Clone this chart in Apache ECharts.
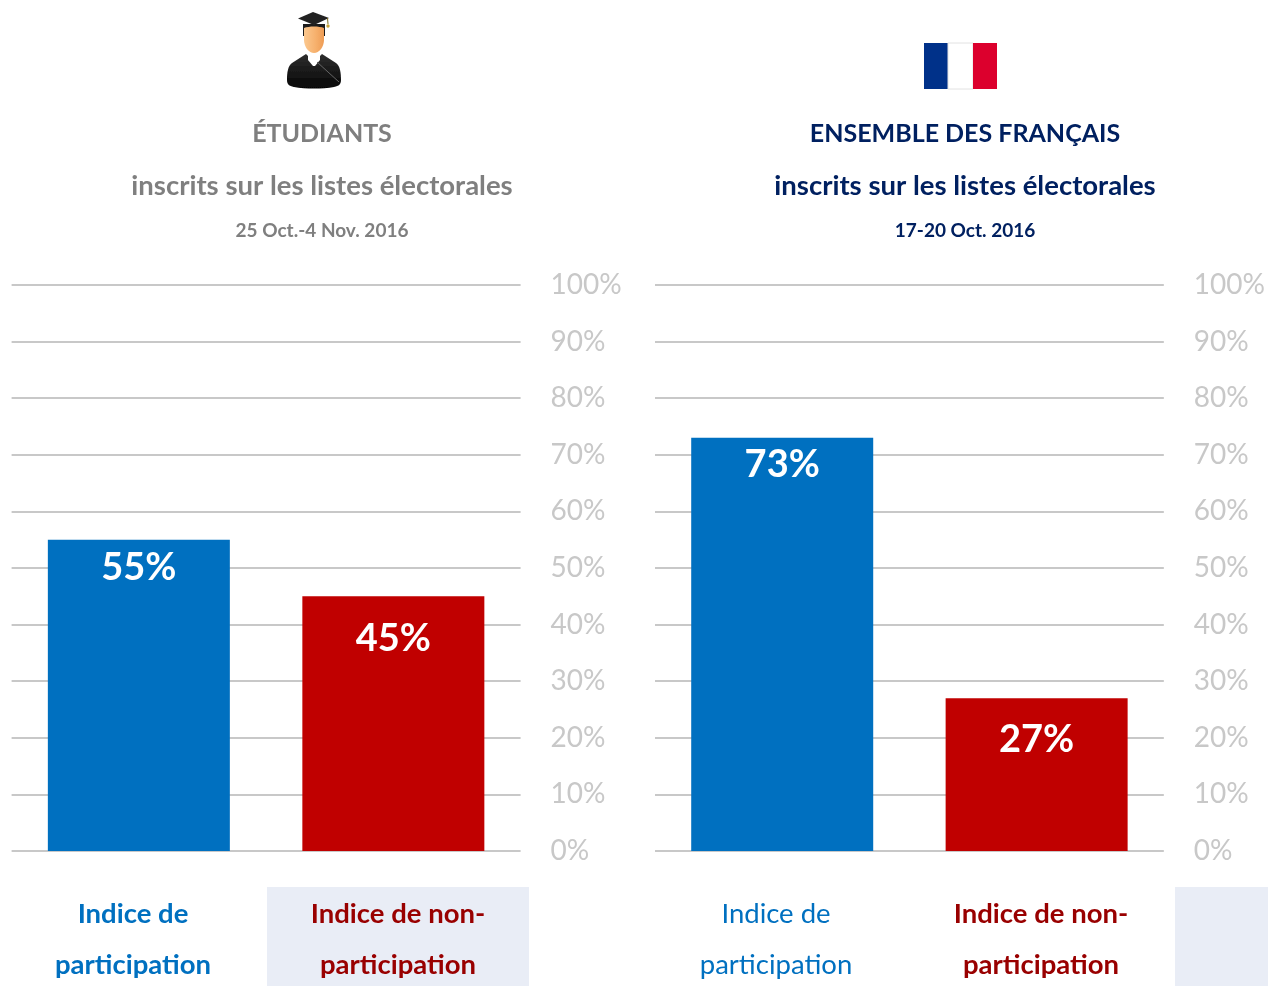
<!DOCTYPE html>
<html><head><meta charset="utf-8">
<style>html,body{margin:0;padding:0;background:#fff}#c{width:1268px;height:986px}</style>
<script src="https://cdn.jsdelivr.net/npm/echarts@6/dist/echarts.min.js"></script>
</head><body><div id="c"></div>
<script>
const categories = ['Indice de\nparticipation', 'Indice de non-\nparticipation'];
const studentValues = [55, 45];
const frenchValues = [73, 27];
const studentTitles = ['ÉTUDIANTS', 'inscrits sur les listes électorales', '25 Oct.-4 Nov. 2016'];
const frenchTitles = ['ENSEMBLE DES FRANÇAIS', 'inscrits sur les listes électorales', '17-20 Oct. 2016'];
const barColors = ['#0070c0', '#c00000'];
const FONT = 'Lato, "Open Sans", sans-serif';

const graduateSvg = `<svg xmlns="http://www.w3.org/2000/svg" width="60" height="80" viewBox="284 10 60 80">
<defs><linearGradient id="f" x1="0" y1="0" x2="1" y2="0"><stop offset="0" stop-color="#fbc88f"/><stop offset="0.6" stop-color="#f6b06c"/><stop offset="1" stop-color="#ee9c55"/></linearGradient>
<linearGradient id="b" x1="0" y1="0" x2="0" y2="1"><stop offset="0" stop-color="#2e2e2e"/><stop offset="1" stop-color="#050505"/></linearGradient>
<filter id="s" x="-5%" y="-5%" width="110%" height="110%"><feGaussianBlur stdDeviation="0.4"/></filter></defs>
<g filter="url(#s)">
<path d="M287 80 C287 72 288 66 292 63 L306 54 L314 62 L322 54 L336 63 C340 66 341 72 341 80 C341 84 339 86 334 87 C322 89 306 89 294 87 C289 86 287 84 287 80 Z" fill="url(#b)"/>
<path d="M308 52 L320 52 L320 60 L315 66 L313 66 L308 60 Z" fill="#fff"/>
<path d="M303 24 L325 24 L325 36 L303 36 Z" fill="#1c1c1c"/>
<path d="M304 28 C309 26 319 26 324 28 L324 40 C324 47 319 53 314 53 C309 53 304 47 304 40 Z" fill="url(#f)"/>
<path d="M298 18.5 L313 12 L329 18 L314 25 Z" fill="#222"/>
<path d="M327.5 18 L328 24" stroke="#7a6a20" stroke-width="1" fill="none"/>
<circle cx="328" cy="26" r="1.7" fill="#c9a53a"/>
<path d="M317 62 L339 82" stroke="#666" stroke-width="1" fill="none"/>
</g></svg>`;

const chart = echarts.init(document.getElementById('c'), null, {renderer: 'canvas'});

function titleSet(lines, x, color) {
  const ys = [116, 167, 216];
  const sizes = [25, 27.5, 19];
  return lines.map((t, i) => ({
    text: t, left: x - 5, top: ys[i], textAlign: 'center',
    textStyle: {color, fontFamily: FONT, fontWeight: 'bold', fontSize: sizes[i]}
  }));
}
function grid(left) { return {left, width: 509, top: 285, height: 566, containLabel: false}; }
function xAxis(i) {
  return {gridIndex: i, type: 'category', data: categories,
    axisLine: {show: false}, axisTick: {show: false}, axisLabel: {show: false}, splitLine: {show: false}};
}
function yAxis(i) {
  return {gridIndex: i, type: 'value', min: 0, max: 100, interval: 10, position: 'right',
    axisLine: {show: false}, axisTick: {show: false},
    axisLabel: {formatter: '{value}%', color: '#c8c8c8', fontFamily: FONT, fontSize: 28, margin: 30, align: 'left', padding: [4, 0, 0, 0]},
    splitLine: {lineStyle: {color: '#c8c8c8', width: 2}}};
}
function barSeries(i, values, distances) {
  return {type: 'bar', xAxisIndex: i, yAxisIndex: i, barWidth: 182, z: 3,
    data: values.map((v, k) => ({
      value: v, itemStyle: {color: barColors[k]},
      label: {show: true, position: 'insideTop', distance: distances[k], formatter: '{c}%',
        color: '#fff', fontFamily: FONT, fontWeight: 'bold', fontSize: 38}
    }))};
}
function catLabel(text, cx, color, weight) {
  return {type: 'text', z: 5, style: {
    text, x: cx, y: 889, align: 'center', verticalAlign: 'top', lineHeight: 51,
    fill: color, fontFamily: FONT, fontSize: 27.5, fontWeight: weight}};
}
const graphic = [
  {type: 'rect', z: 0, shape: {x: 267, y: 887, width: 262, height: 99}, style: {fill: '#e9edf6'}},
  {type: 'rect', z: 0, shape: {x: 1175, y: 887, width: 93, height: 99}, style: {fill: '#e9edf6'}},
  catLabel(categories[0], 133, '#0070c0', 'bold'),
  catLabel(categories[1], 398, '#990000', 'bold'),
  catLabel(categories[0], 776, '#0070c0', 'normal'),
  catLabel(categories[1], 1041, '#990000', 'bold'),
  {type: 'rect', shape: {x: 924, y: 43, width: 24, height: 46}, style: {fill: '#003189'}},
  {type: 'rect', shape: {x: 948, y: 43, width: 25, height: 46}, style: {fill: '#fff', stroke: '#e2e2e2', lineWidth: 1}},
  {type: 'rect', shape: {x: 973, y: 43, width: 24, height: 46}, style: {fill: '#dc002d'}},
  {type: 'image', style: {image: 'data:image/svg+xml;charset=utf-8,' + encodeURIComponent(graduateSvg), x: 284, y: 10, width: 60, height: 80}}
];

chart.setOption({
  animation: false,
  backgroundColor: '#fff',
  title: [...titleSet(studentTitles, 322, '#7f7f7f'), ...titleSet(frenchTitles, 965, '#002060')],
  grid: [grid(11.6), grid(655)],
  xAxis: [xAxis(0), xAxis(1)],
  yAxis: [yAxis(0), yAxis(1)],
  series: [barSeries(0, studentValues, [9, 23]), barSeries(1, frenchValues, [8, 23])],
  graphic
});
</script></body></html>
